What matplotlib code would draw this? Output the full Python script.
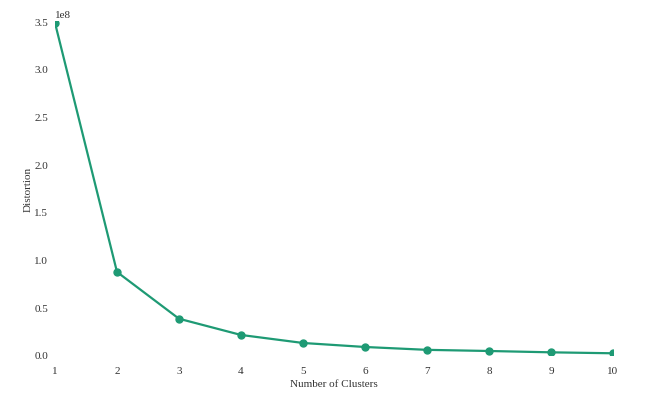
import numpy as np
import matplotlib
matplotlib.use('Agg')
import matplotlib.pyplot as plt

# elbow curve data
clusters = [1, 2, 3, 4, 5, 6, 7, 8, 9, 10]
distortion = [3.48e8, 0.87e8, 0.38e8, 0.21e8, 0.126e8, 0.084e8, 0.054e8, 0.042e8, 0.028e8, 0.018e8]

plt.rcParams['font.family'] = ['Liberation Serif', 'DejaVu Serif']
plt.rcParams['font.size'] = 8

fig = plt.figure(figsize=(6.48, 4.06), dpi=100)
ax = fig.add_axes([55 / 648, 50 / 406, (613 - 55) / 648, (356 - 22) / 406])

ax.plot(clusters, distortion, color='#1e9a74', marker='o', markersize=5, linewidth=1.6)
ax.set_xlim(1, 10)
ax.set_ylim(0, 3.5e8)
ax.set_xticks(clusters)
ax.set_yticks(np.arange(0, 3.6e8, 0.5e8))

for s in ax.spines.values():
    s.set_visible(False)
ax.tick_params(length=0, colors='#333333')
ax.tick_params(axis='x', pad=8)
ax.tick_params(axis='y', pad=5)
ax.set_xlabel('Number of Clusters', color='#333333', labelpad=3)
ax.set_ylabel('Distortion', color='#333333', labelpad=1)

fig.savefig('out.png', dpi=100, facecolor='white')
